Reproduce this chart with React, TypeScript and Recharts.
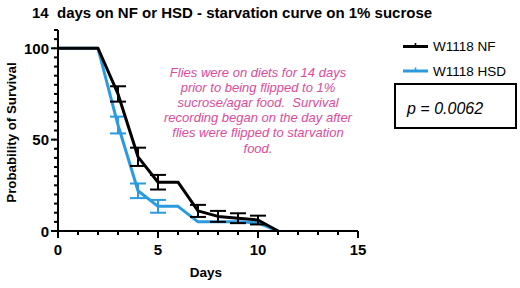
import { LineChart, Line, XAxis, YAxis, ErrorBar } from "recharts";

const days = [0, 1, 2, 3, 4, 5, 6, 7, 8, 9, 10, 11];
const nfSurvival = [100, 100, 100, 75, 40.6, 26.7, 26.7, 11, 8, 7, 6, 0];
const nfError = [0, 0, 0, 4.2, 5, 4, 0, 3.3, 3, 2.7, 2.4, 0];
const hsdSurvival = [100, 100, 100, 58, 22, 13.5, 13.5, 5, 5, 5, 4.5, 0];
const hsdError = [0, 0, 0, 4.6, 4, 3.5, 0, 0, 0, 0, 0, 0];

const xTicks = [0, 1, 2, 3, 4, 5, 6, 7, 8, 9, 10, 11, 12, 13, 14, 15];
const yTicks = [0, 5, 10, 15, 20, 25, 30, 35, 40, 45, 50, 55, 60, 65, 70, 75, 80, 85, 90, 95, 100, 105, 110];

const noteLines = [
  "Flies were on diets for 14 days",
  "prior to being flipped to 1%",
  "sucrose/agar food.  Survival",
  "recording began on the day after",
  "flies were flipped to starvation",
  "food.",
];

const legendItems = [
  { name: "W1118 NF", color: "#000000" },
  { name: "W1118 HSD", color: "#2b9be0" },
];

const NF_COLOR = "#000000";
const HSD_COLOR = "#2b9be0";
const NOTE_COLOR = "#dd4a9c";
const FONT = "'Liberation Sans', Arial, sans-serif";
const MINOR = 4;

const chartData = days.map((d, i) => ({
  day: d,
  nf: nfSurvival[i],
  nfErr: nfError[i],
  hsd: hsdSurvival[i],
  hsdErr: hsdError[i],
}));

// native tick lines draw the short minor mark; majors get a little extra plus a label
const renderXTick = (props: any) => {
  const { x, y, payload } = props;
  if (payload.value % 5 !== 0) return <g key={`xt-${payload.value}`} />;
  return (
    <g key={`xt-${payload.value}`}>
      <line x1={x} x2={x} y1={y - 1} y2={y + 3} stroke="#000" strokeWidth={2} />
      <text x={x} y={y + 20} textAnchor="middle" fontSize={15} fontWeight="bold" fontFamily={FONT} fill="#000">
        {payload.value}
      </text>
    </g>
  );
};

const renderYTick = (props: any) => {
  const { x, y, payload } = props;
  if (payload.value % 50 !== 0) return <g key={`yt-${payload.value}`} />;
  return (
    <g key={`yt-${payload.value}`}>
      <line x1={x + 1} x2={x - 3} y1={y} y2={y} stroke="#000" strokeWidth={2} />
      <text x={x - 5} y={y + 5.5} textAnchor="end" fontSize={15} fontWeight="bold" fontFamily={FONT} fill="#000">
        {payload.value}
      </text>
    </g>
  );
};

export default function App() {
  return (
    <div style={{ position: "absolute", left: 0, top: 0, width: 520, height: 288, background: "#fff" }}>
      <LineChart width={520} height={288} data={chartData} margin={{ top: 30, right: 162, bottom: 17, left: 18 }}>
        <XAxis
          type="number"
          dataKey="day"
          domain={[0, 15]}
          ticks={xTicks}
          interval={0}
          tickSize={MINOR}
          tickMargin={0}
          tickLine={{ stroke: "#000", strokeWidth: 2 }}
          tick={renderXTick}
          height={40}
          axisLine={{ stroke: "#000", strokeWidth: 2 }}
          label={{
            content: ({ viewBox }: any) => (
              <text
                x={viewBox.x + viewBox.width / 2 - 2}
                y={viewBox.y + 46}
                textAnchor="middle"
                fontSize={13.5}
                fontWeight="bold"
                fontFamily={FONT}
                fill="#000"
              >
                Days
              </text>
            ),
          }}
        />
        <YAxis
          type="number"
          domain={[0, 110]}
          ticks={yTicks}
          interval={0}
          tickSize={MINOR}
          tickMargin={0}
          tickLine={{ stroke: "#000", strokeWidth: 2 }}
          tick={renderYTick}
          width={40}
          axisLine={{ stroke: "#000", strokeWidth: 2 }}
          label={{
            content: ({ viewBox }: any) => {
              const cx = viewBox.x - 2;
              const cy = viewBox.y + viewBox.height / 2 + 2;
              return (
                <text
                  x={cx}
                  y={cy}
                  transform={`rotate(-90 ${cx} ${cy})`}
                  textAnchor="middle"
                  fontSize={13.3}
                  fontWeight="bold"
                  fontFamily={FONT}
                  fill="#000"
                >
                  Probability of Survival
                </text>
              );
            },
          }}
        />
        <Line dataKey="hsd" stroke={HSD_COLOR} strokeWidth={3} dot={false} isAnimationActive={false} strokeLinejoin="round">
          <ErrorBar dataKey="hsdErr" width={8} stroke={HSD_COLOR} strokeWidth={2} direction="y" />
        </Line>
        <Line dataKey="nf" stroke={NF_COLOR} strokeWidth={3} dot={false} isAnimationActive={false} strokeLinejoin="round">
          <ErrorBar dataKey="nfErr" width={8} stroke={NF_COLOR} strokeWidth={2} direction="y" />
        </Line>
      </LineChart>
      <svg width={520} height={288} style={{ position: "absolute", left: 0, top: 0, pointerEvents: "none" }}>
        <text x={32} y={18} fontSize={15} fontWeight="bold" fontFamily={FONT} fill="#000" style={{ whiteSpace: "pre" }}>
          14  days on NF or HSD - starvation curve on 1% sucrose
        </text>
        {legendItems.map((item, i) => {
          const cy = 46.5 + i * 24.5;
          return (
            <g key={item.name}>
              <line x1={403} x2={428} y1={cy} y2={cy} stroke={item.color} strokeWidth={3} />
              <line x1={415.5} x2={415.5} y1={cy - 3.5} y2={cy} stroke={item.color} strokeWidth={1.6} />
              <text x={433} y={cy + 4.8} fontSize={13.5} fontFamily={FONT} fill="#000">
                {item.name}
              </text>
            </g>
          );
        })}
        {noteLines.map((line, i) => (
          <text
            key={i}
            x={258}
            y={76.5 + i * 15.2}
            textAnchor="middle"
            fontSize={13}
            fontStyle="italic"
            fontFamily={FONT}
            fill={NOTE_COLOR}
            style={{ whiteSpace: "pre" }}
          >
            {line}
          </text>
        ))}
        <rect x={395} y={84} width={121} height={44} fill="#fff" stroke="#000" strokeWidth={2} />
        <text x={407} y={113.5} fontSize={16} fontStyle="italic" fontFamily={FONT} fill="#000">
          p = 0.0062
        </text>
      </svg>
    </div>
  );
}
